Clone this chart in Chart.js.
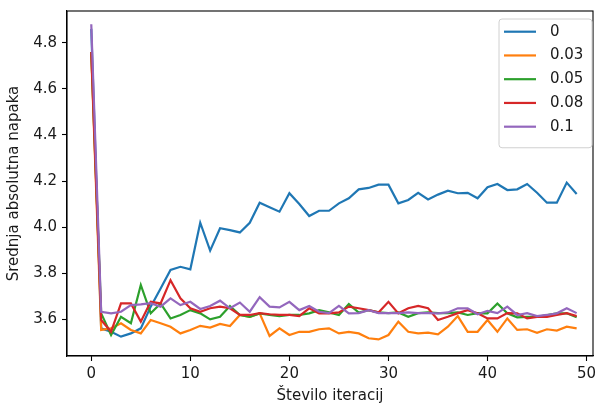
<!DOCTYPE html>
<html>
<head>
<meta charset="utf-8">
<script src="https://cdn.jsdelivr.net/npm/chart.js@4/dist/chart.umd.min.js"></script>
<style>
  html, body { margin: 0; padding: 0; background: #fff; }
  #c { display: block; }
</style>
</head>
<body>
<canvas id="c" width="595" height="409"></canvas>
<script>
// Mean absolute error per iteration, one series per regularisation value
const seriesLabels = ['0', '0.03', '0.05', '0.08', '0.1'];
const seriesColors = ['#1f77b4', '#ff7f0e', '#2ca02c', '#d62728', '#9467bd'];

const err0 = [4.86, 3.561, 3.546, 3.525, 3.539, 3.561, 3.655, 3.734, 3.814, 3.828,
  3.817, 4.019, 3.898, 3.995, 3.987, 3.977, 4.019, 4.106, 4.086, 4.067,
  4.147, 4.100, 4.048, 4.071, 4.071, 4.103, 4.125, 4.164, 4.170, 4.184,
  4.184, 4.103, 4.118, 4.149, 4.120, 4.141, 4.158, 4.147, 4.149, 4.125,
  4.173, 4.187, 4.161, 4.164, 4.187, 4.149, 4.106, 4.106, 4.193, 4.144];

const err003 = [4.75, 3.554, 3.561, 3.583, 3.554, 3.539, 3.597, 3.583, 3.568, 3.539,
  3.554, 3.572, 3.564, 3.580, 3.571, 3.619, 3.611, 3.626, 3.528, 3.561,
  3.532, 3.546, 3.546, 3.557, 3.561, 3.539, 3.546, 3.539, 3.518, 3.513,
  3.532, 3.590, 3.546, 3.539, 3.542, 3.535, 3.568, 3.614, 3.546, 3.546,
  3.597, 3.546, 3.604, 3.554, 3.557, 3.542, 3.557, 3.551, 3.568, 3.561];

const err005 = [4.76, 3.626, 3.532, 3.611, 3.583, 3.749, 3.626, 3.669, 3.604, 3.619,
  3.640, 3.626, 3.600, 3.611, 3.658, 3.619, 3.611, 3.626, 3.619, 3.614,
  3.619, 3.619, 3.626, 3.640, 3.630, 3.619, 3.666, 3.629, 3.640, 3.630,
  3.627, 3.630, 3.611, 3.627, 3.630, 3.627, 3.627, 3.630, 3.619, 3.627,
  3.626, 3.669, 3.626, 3.609, 3.611, 3.611, 3.619, 3.626, 3.626, 3.609];

const err008 = [4.76, 3.597, 3.546, 3.669, 3.669, 3.590, 3.676, 3.669, 3.770, 3.691,
  3.648, 3.633, 3.648, 3.655, 3.648, 3.619, 3.619, 3.627, 3.622, 3.619,
  3.619, 3.614, 3.648, 3.626, 3.626, 3.630, 3.655, 3.648, 3.640, 3.630,
  3.676, 3.626, 3.648, 3.658, 3.648, 3.597, 3.611, 3.627, 3.640, 3.626,
  3.604, 3.604, 3.627, 3.626, 3.604, 3.611, 3.611, 3.619, 3.627, 3.614];

const err01 = [4.88, 3.633, 3.626, 3.633, 3.662, 3.665, 3.670, 3.655, 3.691, 3.662,
  3.676, 3.645, 3.658, 3.681, 3.648, 3.673, 3.633, 3.696, 3.655, 3.652,
  3.676, 3.640, 3.658, 3.633, 3.627, 3.658, 3.626, 3.627, 3.640, 3.627,
  3.627, 3.627, 3.630, 3.627, 3.627, 3.626, 3.630, 3.648, 3.648, 3.622,
  3.637, 3.627, 3.655, 3.619, 3.627, 3.614, 3.619, 3.626, 3.648, 3.627];

const xTicks = [0, 10, 20, 30, 40, 50];
const yTicks = [3.6, 3.8, 4.0, 4.2, 4.4, 4.6, 4.8];

const allSeries = [err0, err003, err005, err008, err01];

const FONT = "'DejaVu Sans', sans-serif";
const TEXT = '#1a1a1a';

const datasets = allSeries.map((vals, i) => ({
  label: seriesLabels[i],
  data: vals.map((v, k) => ({ x: k, y: v })),
  borderColor: seriesColors[i],
  backgroundColor: seriesColors[i],
  borderWidth: 2.2,
  pointRadius: 0,
  tension: 0,
  fill: false,
  order: allSeries.length - 1 - i
}));

// Closed frame around the plot area (top and right spines)
const framePlugin = {
  id: 'frame',
  afterDatasetsDraw(chart) {
    const { ctx, chartArea: a } = chart;
    ctx.save();
    ctx.strokeStyle = '#000';
    ctx.lineWidth = 1.1;
    ctx.strokeRect(a.left, a.top, a.right - a.left, a.bottom - a.top);
    ctx.restore();
  }
};

// Boxed legend in the upper-right corner of the plot
const boxLegend = {
  id: 'boxLegend',
  afterDraw(chart) {
    const { ctx, chartArea: a } = chart;
    const ds = chart.data.datasets;
    const w = 93, rowH = 23.75, pad = 8;
    const h = pad * 2 + rowH * ds.length - 6;
    const x0 = a.right - 1 - w, y0 = a.top + 8;
    ctx.save();
    ctx.beginPath();
    ctx.roundRect(x0, y0, w, h, 3);
    ctx.fillStyle = 'rgba(255,255,255,0.85)';
    ctx.fill();
    ctx.strokeStyle = '#d0d0d0';
    ctx.lineWidth = 1;
    ctx.stroke();
    ctx.font = '15px ' + FONT;
    ctx.textBaseline = 'middle';
    ctx.textAlign = 'left';
    ds.forEach((d, i) => {
      const cy = y0 + 12.7 + i * rowH;
      ctx.strokeStyle = d.borderColor;
      ctx.lineWidth = 2.2;
      ctx.beginPath();
      ctx.moveTo(x0 + 5, cy);
      ctx.lineTo(x0 + 37, cy);
      ctx.stroke();
      ctx.fillStyle = TEXT;
      ctx.fillText(d.label, x0 + 51, cy);
    });
    ctx.restore();
  }
};

new Chart(document.getElementById('c'), {
  type: 'line',
  data: { datasets },
  options: {
    responsive: false,
    animation: false,
    layout: { padding: { top: 11, right: 2, left: 0, bottom: 0 } },
    plugins: {
      legend: { display: false },
      tooltip: { enabled: false }
    },
    scales: {
      x: {
        type: 'linear',
        min: -2.45,
        max: 50.65,
        afterBuildTicks(scale) { scale.ticks = xTicks.map(v => ({ value: v })); },
        afterFit(scale) { scale.height = 53; scale.paddingRight = 0; scale.paddingLeft = 0; },
        grid: { display: true, drawOnChartArea: false, drawTicks: true, tickLength: 5, tickColor: '#000', tickWidth: 1.1 },
        border: { display: true, color: '#000', width: 1.1 },
        ticks: { color: TEXT, font: { family: FONT, size: 15 }, padding: 4, maxRotation: 0, callback: v => String(v) },
        title: { display: true, text: 'Število iteracij', color: TEXT, font: { family: FONT, size: 15 }, padding: { top: 2, bottom: 4 } }
      },
      y: {
        type: 'linear',
        min: 3.441,
        max: 4.9375,
        afterBuildTicks(scale) { scale.ticks = yTicks.map(v => ({ value: v })); },
        afterFit(scale) { scale.width = 67; scale.paddingTop = 0; scale.paddingBottom = 0; },
        grid: { display: true, drawOnChartArea: false, drawTicks: true, tickLength: 5, tickColor: '#000', tickWidth: 1.1 },
        border: { display: true, color: '#000', width: 1.1 },
        ticks: { color: TEXT, font: { family: FONT, size: 15 }, padding: 5, callback: v => Number(v).toFixed(1) },
        title: { display: true, text: 'Srednja absolutna napaka', color: TEXT, font: { family: FONT, size: 15 }, padding: { top: 5, bottom: 4 } }
      }
    }
  },
  plugins: [framePlugin, boxLegend]
});
</script>
</body>
</html>
